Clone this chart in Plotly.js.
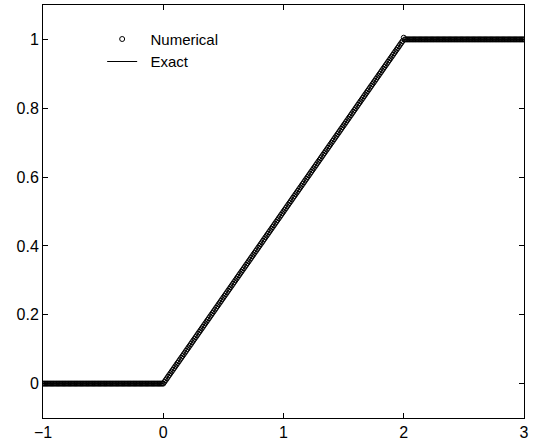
<!DOCTYPE html>
<html>
<head>
<meta charset="utf-8">
<script src="https://cdn.plot.ly/plotly-3.0.1.min.js"></script>
<style>html,body{margin:0;padding:0;background:#fff;}#chart{width:534px;height:446px;}</style>
</head>
<body>
<div id="chart"></div>
<script>
const numX = [
-1,-0.99,-0.98,-0.97,-0.96,-0.95,-0.94,-0.93,-0.92,-0.91,-0.9,-0.89,-0.88,-0.87,-0.86,-0.85,-0.84,-0.83,-0.82,-0.81,
-0.8,-0.79,-0.78,-0.77,-0.76,-0.75,-0.74,-0.73,-0.72,-0.71,-0.7,-0.69,-0.68,-0.67,-0.66,-0.65,-0.64,-0.63,-0.62,-0.61,
-0.6,-0.59,-0.58,-0.57,-0.56,-0.55,-0.54,-0.53,-0.52,-0.51,-0.5,-0.49,-0.48,-0.47,-0.46,-0.45,-0.44,-0.43,-0.42,-0.41,
-0.4,-0.39,-0.38,-0.37,-0.36,-0.35,-0.34,-0.33,-0.32,-0.31,-0.3,-0.29,-0.28,-0.27,-0.26,-0.25,-0.24,-0.23,-0.22,-0.21,
-0.2,-0.19,-0.18,-0.17,-0.16,-0.15,-0.14,-0.13,-0.12,-0.11,-0.1,-0.09,-0.08,-0.07,-0.06,-0.05,-0.04,-0.03,-0.02,-0.01,0,
0.01,0.02,0.03,0.04,0.05,0.06,0.07,0.08,0.09,0.1,0.11,0.12,0.13,0.14,0.15,0.16,0.17,0.18,0.19,
0.2,0.21,0.22,0.23,0.24,0.25,0.26,0.27,0.28,0.29,0.3,0.31,0.32,0.33,0.34,0.35,0.36,0.37,0.38,0.39,
0.4,0.41,0.42,0.43,0.44,0.45,0.46,0.47,0.48,0.49,0.5,0.51,0.52,0.53,0.54,0.55,0.56,0.57,0.58,0.59,
0.6,0.61,0.62,0.63,0.64,0.65,0.66,0.67,0.68,0.69,0.7,0.71,0.72,0.73,0.74,0.75,0.76,0.77,0.78,0.79,
0.8,0.81,0.82,0.83,0.84,0.85,0.86,0.87,0.88,0.89,0.9,0.91,0.92,0.93,0.94,0.95,0.96,0.97,0.98,0.99,
1,1.01,1.02,1.03,1.04,1.05,1.06,1.07,1.08,1.09,1.1,1.11,1.12,1.13,1.14,1.15,1.16,1.17,1.18,1.19,
1.2,1.21,1.22,1.23,1.24,1.25,1.26,1.27,1.28,1.29,1.3,1.31,1.32,1.33,1.34,1.35,1.36,1.37,1.38,1.39,
1.4,1.41,1.42,1.43,1.44,1.45,1.46,1.47,1.48,1.49,1.5,1.51,1.52,1.53,1.54,1.55,1.56,1.57,1.58,1.59,
1.6,1.61,1.62,1.63,1.64,1.65,1.66,1.67,1.68,1.69,1.7,1.71,1.72,1.73,1.74,1.75,1.76,1.77,1.78,1.79,
1.8,1.81,1.82,1.83,1.84,1.85,1.86,1.87,1.88,1.89,1.9,1.91,1.92,1.93,1.94,1.95,1.96,1.97,1.98,1.99,
2,2.01,2.02,2.03,2.04,2.05,2.06,2.07,2.08,2.09,2.1,2.11,2.12,2.13,2.14,2.15,2.16,2.17,2.18,2.19,
2.2,2.21,2.22,2.23,2.24,2.25,2.26,2.27,2.28,2.29,2.3,2.31,2.32,2.33,2.34,2.35,2.36,2.37,2.38,2.39,
2.4,2.41,2.42,2.43,2.44,2.45,2.46,2.47,2.48,2.49,2.5,2.51,2.52,2.53,2.54,2.55,2.56,2.57,2.58,2.59,
2.6,2.61,2.62,2.63,2.64,2.65,2.66,2.67,2.68,2.69,2.7,2.71,2.72,2.73,2.74,2.75,2.76,2.77,2.78,2.79,
2.8,2.81,2.82,2.83,2.84,2.85,2.86,2.87,2.88,2.89,2.9,2.91,2.92,2.93,2.94,2.95,2.96,2.97,2.98,2.99,3];
const numY = [
0,0,0,0,0,0,0,0,0,0,0,0,0,0,0,0,0,0,0,0,
0,0,0,0,0,0,0,0,0,0,0,0,0,0,0,0,0,0,0,0,
0,0,0,0,0,0,0,0,0,0,0,0,0,0,0,0,0,0,0,0,
0,0,0,0,0,0,0,0,0,0,0,0,0,0,0,0,0,0,0,0,
0,0,0,0,0,0,0,0,0,0,0,0,0,0,0,0,0,0,0,0,0,
0.005,0.01,0.015,0.02,0.025,0.03,0.035,0.04,0.045,0.05,0.055,0.06,0.065,0.07,0.075,0.08,0.085,0.09,0.095,
0.1,0.105,0.11,0.115,0.12,0.125,0.13,0.135,0.14,0.145,0.15,0.155,0.16,0.165,0.17,0.175,0.18,0.185,0.19,0.195,
0.2,0.205,0.21,0.215,0.22,0.225,0.23,0.235,0.24,0.245,0.25,0.255,0.26,0.265,0.27,0.275,0.28,0.285,0.29,0.295,
0.3,0.305,0.31,0.315,0.32,0.325,0.33,0.335,0.34,0.345,0.35,0.355,0.36,0.365,0.37,0.375,0.38,0.385,0.39,0.395,
0.4,0.405,0.41,0.415,0.42,0.425,0.43,0.435,0.44,0.445,0.45,0.455,0.46,0.465,0.47,0.475,0.48,0.485,0.49,0.495,
0.5,0.505,0.51,0.515,0.52,0.525,0.53,0.535,0.54,0.545,0.55,0.555,0.56,0.565,0.57,0.575,0.58,0.585,0.59,0.595,
0.6,0.605,0.61,0.615,0.62,0.625,0.63,0.635,0.64,0.645,0.65,0.655,0.66,0.665,0.67,0.675,0.68,0.685,0.69,0.695,
0.7,0.705,0.71,0.715,0.72,0.725,0.73,0.735,0.74,0.745,0.75,0.755,0.76,0.765,0.77,0.775,0.78,0.785,0.79,0.795,
0.8,0.805,0.81,0.815,0.82,0.825,0.83,0.835,0.84,0.845,0.85,0.855,0.86,0.865,0.87,0.875,0.88,0.885,0.89,0.895,
0.9,0.905,0.91,0.915,0.92,0.925,0.93,0.935,0.94,0.945,0.95,0.955,0.96,0.965,0.97,0.975,0.98,0.985,0.99,0.995,
1.005,1,1,1,1,1,1,1,1,1,1,1,1,1,1,1,1,1,1,1,
1,1,1,1,1,1,1,1,1,1,1,1,1,1,1,1,1,1,1,1,
1,1,1,1,1,1,1,1,1,1,1,1,1,1,1,1,1,1,1,1,
1,1,1,1,1,1,1,1,1,1,1,1,1,1,1,1,1,1,1,1,
1,1,1,1,1,1,1,1,1,1,1,1,1,1,1,1,1,1,1,1,1];
const exactX = [-1, 0, 2, 3];
const exactY = [0, 0, 1, 1];
const xTicks = [-1, 0, 1, 2, 3];
const yTicks = [0, 0.2, 0.4, 0.6, 0.8, 1];

const font = {family: 'Liberation Sans, Arial, Helvetica, sans-serif', size: 16, color: '#000'};
const legendFont = {family: 'Liberation Sans, Arial, Helvetica, sans-serif', size: 15, color: '#000'};
const traces = [
  {x: numX, y: numY, name: '\u00a0\u00a0Numerical', type: 'scatter', mode: 'markers',
   marker: {symbol: 'circle-open', size: 5, color: '#000', line: {width: 1, color: '#000'}}},
  {x: exactX, y: exactY, name: '\u00a0\u00a0Exact', type: 'scatter', mode: 'lines',
   line: {color: '#000', width: 1}}
];
const axisBase = {showgrid: false, zeroline: false, showline: true, mirror: 'ticks',
  linecolor: '#000', linewidth: 1, ticks: 'inside', ticklen: 5, tickcolor: '#000', tickwidth: 1,
  tickfont: font};
const layout = {
  width: 534, height: 446,
  margin: {l: 43, r: 10, t: 5, b: 28, pad: 0},
  paper_bgcolor: '#fff', plot_bgcolor: '#fff',
  font: font,
  showlegend: true,
  legend: {x: 0.123, y: 0.957, xanchor: 'left', yanchor: 'top', bgcolor: 'rgba(0,0,0,0)',
    borderwidth: 0, font: legendFont, tracegroupgap: 0, itemwidth: 30},
  xaxis: Object.assign({}, axisBase, {range: [-1, 3], tickvals: xTicks, ticktext: xTicks.map(v => v < 0 ? '\u2212' + Math.abs(v) : String(v))}),
  yaxis: Object.assign({}, axisBase, {range: [-0.1, 1.1], tickvals: yTicks, ticktext: yTicks.map(String)})
};
Plotly.newPlot('chart', traces, layout, {staticPlot: true, displayModeBar: false});
</script>
</body>
</html>
